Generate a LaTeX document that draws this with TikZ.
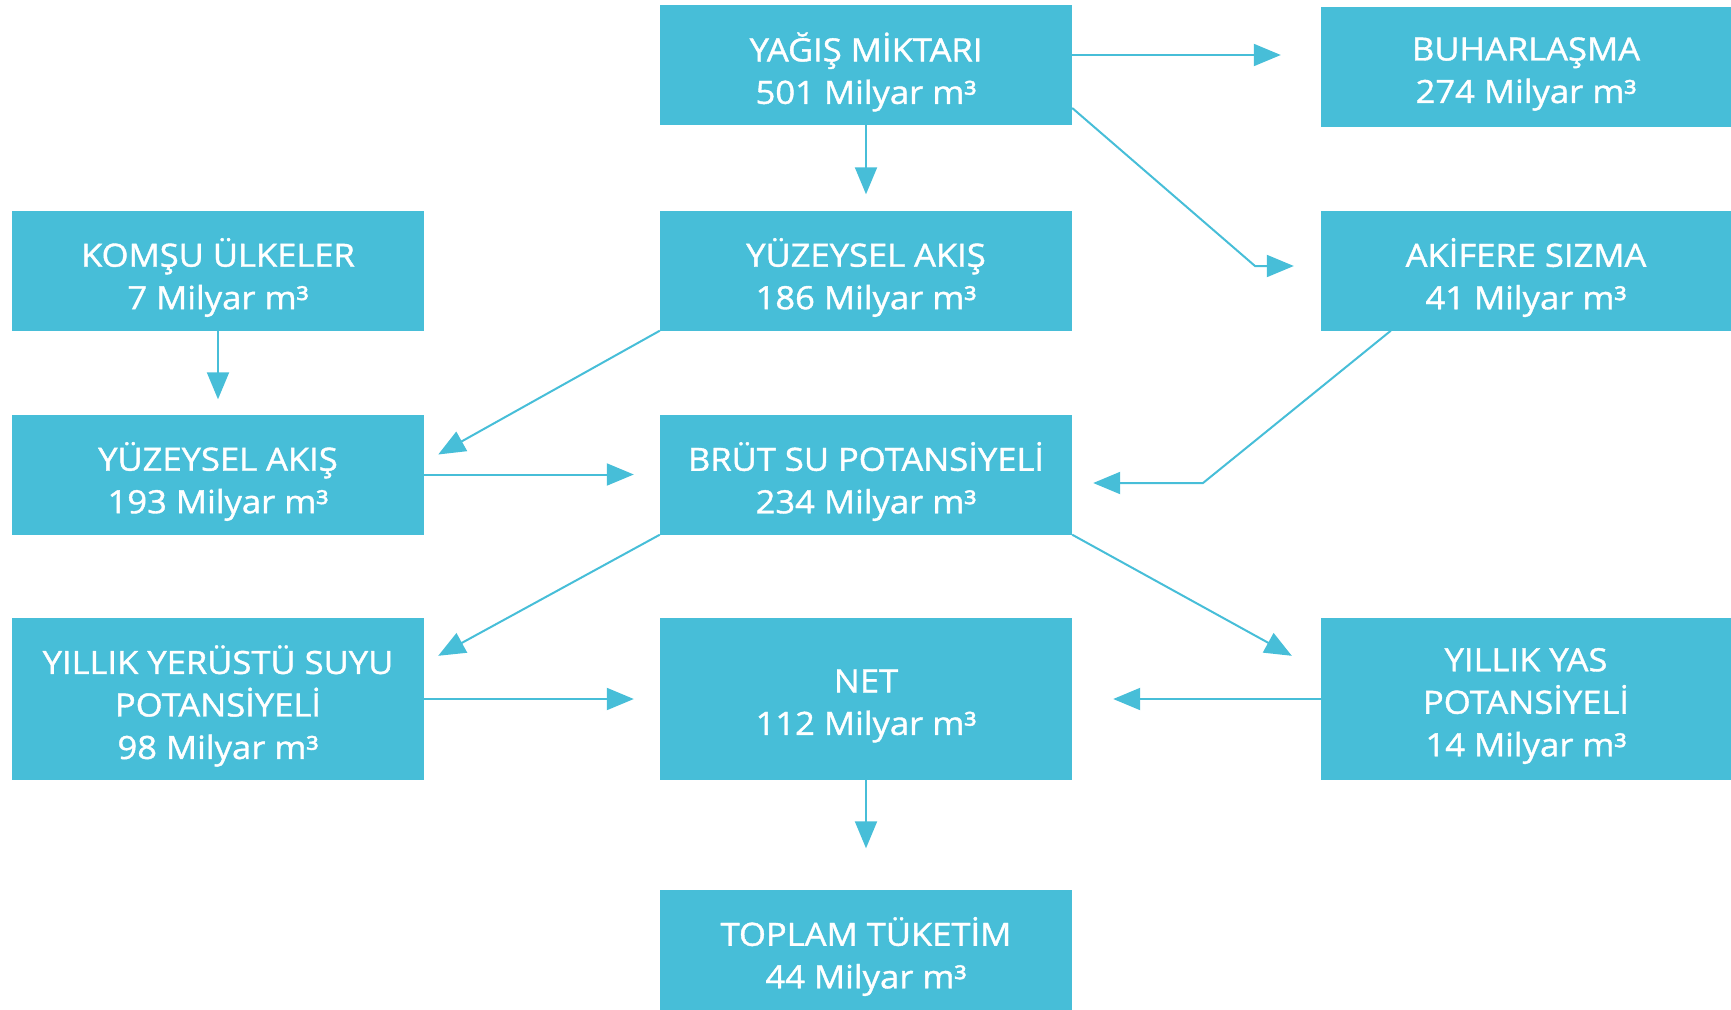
\documentclass[tikz,border=0pt]{standalone}
\usepackage{fontspec}
\setmainfont{Open Sans}
\newfontfamily\boxfont{Open Sans}[FakeBold=1.2, FakeStretch=1.08]
\usetikzlibrary{arrows.meta,calc}
\definecolor{boxblue}{HTML}{47BED8}
\tikzset{
  box/.style={fill=boxblue, draw=none, inner sep=0pt,
    minimum width=412pt, minimum height=120pt},
  lbl/.style={text=white, align=center, inner sep=0pt, yshift=-7pt,
    font=\boxfont\fontsize{32}{42.5}\selectfont},
  tall/.style={minimum height=162pt},
  arr/.style={draw=boxblue, line width=2pt, -{Triangle[length=27pt,width=22pt]}}
}
\begin{document}
\begin{tikzpicture}[x=1pt,y=-1pt]
\useasboundingbox (0,0) rectangle (1731,1009);
\node[box, label={[lbl]center:{YAĞIŞ MİKTARI\\501 Milyar m³}}] (yag) at (866,65) {};
\node[box, minimum width=410pt, label={[lbl]center:{BUHARLAŞMA\\274 Milyar m³}}] (buh) at (1526,67) {};
\node[box, label={[lbl]center:{KOMŞU ÜLKELER\\7 Milyar m³}}] (kom) at (218,270.5) {};
\node[box, label={[lbl]center:{YÜZEYSEL AKIŞ\\186 Milyar m³}}] (yzm) at (866,270.5) {};
\node[box, minimum width=410pt, label={[lbl]center:{AKİFERE SIZMA\\41 Milyar m³}}] (akf) at (1526,270.5) {};
\node[box, label={[lbl]center:{YÜZEYSEL AKIŞ\\193 Milyar m³}}] (yzl) at (218,474.5) {};
\node[box, label={[lbl]center:{BRÜT SU POTANSİYELİ\\234 Milyar m³}}] (brut) at (866,474.5) {};
\node[box, tall, label={[lbl]center:{YILLIK YERÜSTÜ SUYU\\POTANSİYELİ\\98 Milyar m³}}] (yer) at (218,699) {};
\node[box, tall, label={[lbl]center:{NET\\112 Milyar m³}}] (net) at (866,699) {};
\node[box, tall, minimum width=410pt, label={[lbl]center:{YILLIK YAS\\POTANSİYELİ\\14 Milyar m³}}] (yas) at (1526,699) {};
\node[box, label={[lbl]center:{TOPLAM TÜKETİM\\44 Milyar m³}}] (top) at (866,949.5) {};
% connectors
\draw[arr, shorten >=40pt] ([yshift=10pt]yag.east) -- ([yshift=10pt]yag.east -| buh.west);
\coordinate (b1) at (1255,266);
\draw[arr, shorten >=27pt] ([yshift=-43pt]yag.east) -- (b1) -- (b1 -| akf.west);
\draw[arr, shorten >=16pt] (yag.south) -- (yzm.north);
\draw[arr, shorten >=15pt] (kom.south) -- (yzl.north);
\draw[arr] (yzm.south west) -- ($(yzl.east)+(14,-20)$);
\draw[arr, shorten >=26pt] (yzl.east) -- (brut.west);
\coordinate (b2) at (1203,483);
\draw[arr, shorten >=21pt] ([xshift=70pt]akf.south west) -- (b2) -- (b2 -| brut.east);
\draw[arr] (brut.south west) -- ($(yer.north east)+(14,38)$);
\draw[arr] (brut.south east) -- ($(yas.north west)+(-29,38)$);
\draw[arr, shorten >=26pt] (yer.east) -- (net.west);
\draw[arr, shorten >=41pt] (yas.west) -- (net.east);
\draw[arr, shorten >=41pt] (net.south) -- (top.north);
\end{tikzpicture}
\end{document}
